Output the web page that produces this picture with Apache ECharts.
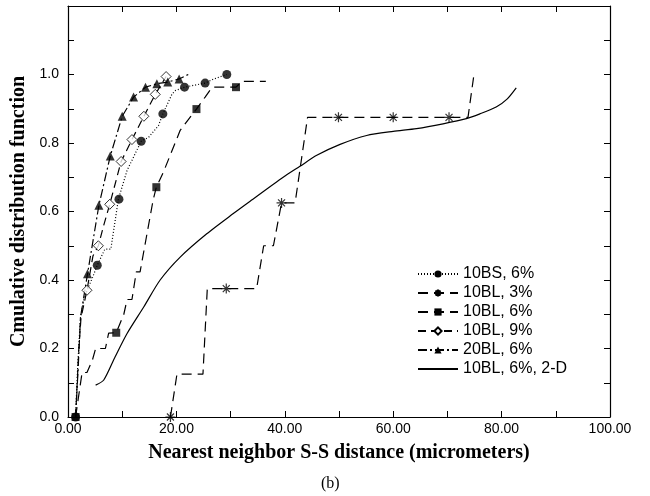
<!DOCTYPE html>
<html>
<head>
<meta charset="utf-8">
<script src="https://cdn.jsdelivr.net/npm/echarts@6/dist/echarts.min.js"></script>
<style>html,body{margin:0;padding:0;background:#fff;}#c{width:650px;height:496px;}</style>
</head>
<body>
<div id="c"></div>
<script>
// ---- data ----
const seriesNames = ['10BS, 6%', '10BL, 3%', '10BL, 6%', '10BL, 9%', '20BL, 6%', '10BL, 6%, 2-D'];
const xTicks = [0, 20, 40, 60, 80, 100];
const yTicks = [0, 0.2, 0.4, 0.6, 0.8, 1.0];

const bs6Line = [[1.4,0],[1.8,0.15],[2.3,0.29],[3.0,0.35],[3.8,0.38],[4.6,0.41],[5.4,0.443],[6.8,0.49],[7.9,0.49],[9.3,0.636],[10.9,0.72],[13.5,0.805],[14.9,0.817],[16.7,0.851],[17.5,0.885],[19.2,0.943],[19.8,0.953],[21.5,0.963],[25.3,0.975],[26.9,0.987],[29.3,1.0]];
const bs6Marks = [[1.4,0],[5.4,0.443],[9.4,0.636],[13.5,0.805],[17.5,0.885],[21.5,0.963],[25.3,0.975],[29.3,1.0]];

const bl3Line = [[18.9,0],[20.1,0.125],[24.9,0.125],[25.7,0.375],[29.2,0.375],[34.8,0.375],[36.1,0.5],[37.9,0.5],[39.4,0.625],[41.9,0.625],[44.2,0.875],[49.9,0.875],[60.0,0.875],[70.3,0.875],[73.8,0.875],[74.9,1.0]];
const bl3Marks = [[18.9,0],[29.2,0.375],[39.4,0.625],[49.9,0.875],[60.0,0.875],[70.3,0.875]];

const bl6Line = [[1.4,0],[1.7,0],[2.6,0.13],[3.5,0.13],[4.5,0.166],[5.1,0.2],[6.9,0.2],[7.5,0.245],[8.9,0.246],[10.3,0.3],[10.9,0.343],[11.8,0.343],[12.6,0.424],[13.3,0.424],[15.7,0.633],[16.3,0.671],[17.6,0.715],[20.7,0.837],[21.6,0.856],[23.7,0.899],[25.3,0.934],[26.6,0.963],[31.0,0.963],[32.1,0.98],[36.5,0.98]];
const bl6Marks = [[1.4,0],[8.9,0.246],[16.3,0.671],[23.7,0.899],[31.0,0.963]];

const bl9Line = [[1.4,0],[2.0,0.2],[2.4,0.29],[3.5,0.37],[4.6,0.47],[5.6,0.5],[6.6,0.56],[7.7,0.621],[9.8,0.746],[11.8,0.81],[14.0,0.878],[16.1,0.942],[18.1,0.994]];
const bl9Marks = [[3.5,0.37],[5.6,0.5],[7.7,0.621],[9.8,0.746],[11.8,0.81],[14.0,0.878],[16.1,0.942],[18.1,0.994]];

const bl20Line = [[1.4,0],[1.9,0.15],[2.3,0.29],[3.6,0.418],[5.7,0.618],[7.8,0.762],[10.0,0.878],[12.1,0.934],[14.3,0.963],[16.4,0.973],[18.4,0.978],[20.5,0.987],[22.2,1.0]];
const bl20Marks = [[3.6,0.418],[5.7,0.618],[7.8,0.762],[10.0,0.878],[12.1,0.934],[14.3,0.963],[16.4,0.973],[18.4,0.978],[20.5,0.987]];

const twoDLine = [[5.1,0.093],[6.6,0.108],[8.7,0.176],[10.9,0.244],[14.0,0.322],[17.0,0.40],[20.7,0.467],[25.6,0.535],[30.5,0.594],[33.6,0.63],[39.7,0.70],[42.8,0.732],[45.9,0.764],[50.2,0.796],[55.1,0.822],[60.0,0.834],[64.3,0.842],[69.2,0.856],[73.5,0.871],[76.0,0.885],[79.0,0.905],[81.0,0.928],[82.7,0.961]];

// ---- chart ----
const K = '#000';
const ASTER = 'path://M0,5L10,5M5,0L5,10M1.5,1.5L8.5,8.5M8.5,1.5L1.5,8.5';
const sans = 'Liberation Sans';
const serif = 'Liberation Serif';

function lineSeries(name, data, dash, symbol, itemStyle, smooth) {
  return {
    type: 'line', name: name, data: data, showSymbol: false,
    symbol: symbol, symbolSize: 8, smooth: smooth || false,
    lineStyle: { color: K, width: 1.2, type: dash },
    itemStyle: itemStyle, z: 2, animation: false
  };
}
function markSeries(name, data, symbol, size, itemStyle) {
  return {
    type: 'scatter', name: name, data: data, symbol: symbol, symbolSize: size,
    itemStyle: itemStyle, z: 3, animation: false
  };
}
const filled = { color: K, borderColor: K, borderWidth: 0 };
const hollow = { color: '#fff', borderColor: K, borderWidth: 1 };
const aster = { color: K, borderColor: K, borderWidth: 1.2 };

const chart = echarts.init(document.getElementById('c'), null, { renderer: 'canvas' });
function axisCommon() {
  return {
    axisLine: { show: true, onZero: false, lineStyle: { color: K, width: 1.2 } },
    axisTick: { show: true, inside: true, length: 6, lineStyle: { color: K } },
    minorTick: { show: true, splitNumber: 2, length: 6, lineStyle: { color: K } },
    splitLine: { show: false }
  };
}
chart.setOption({
  backgroundColor: '#fff',
  animation: false,
  grid: { left: 68, right: 40, top: 6, bottom: 79, containLabel: false },
  xAxis: [
    Object.assign({
      type: 'value', min: xTicks[0], max: xTicks[xTicks.length - 1], interval: xTicks[1] - xTicks[0],
      position: 'bottom',
      axisLabel: { color: K, fontFamily: sans, fontSize: 14, margin: 5, formatter: v => v.toFixed(2) },
      name: 'Nearest neighbor S-S distance (micrometers)', nameLocation: 'middle', nameGap: 26,
      nameTextStyle: { color: K, fontFamily: serif, fontWeight: 'bold', fontSize: 20 }
    }, axisCommon()),
    Object.assign({
      type: 'value', min: xTicks[0], max: xTicks[xTicks.length - 1], interval: xTicks[1] - xTicks[0],
      position: 'top', axisLabel: { show: false }
    }, axisCommon())
  ],
  yAxis: [
    Object.assign({
      type: 'value', min: yTicks[0], max: 1.2, interval: yTicks[1] - yTicks[0],
      position: 'left',
      axisLabel: { color: K, fontFamily: sans, fontSize: 14, margin: 9,
        formatter: v => (v > yTicks[yTicks.length - 1] + 1e-9 ? '' : v.toFixed(1)) },
      name: 'Cmulative distribution function', nameLocation: 'middle', nameGap: 38, nameRotate: 90,
      nameTextStyle: { color: K, fontFamily: serif, fontWeight: 'bold', fontSize: 20 }
    }, axisCommon()),
    Object.assign({
      type: 'value', min: yTicks[0], max: 1.2, interval: yTicks[1] - yTicks[0],
      position: 'right', axisLabel: { show: false }
    }, axisCommon())
  ],
  legend: {
    orient: 'vertical', left: 412, top: 261, itemWidth: 40, itemHeight: 9, itemGap: 3,
    data: seriesNames.slice(0, 5).map(n => ({ name: n })).concat([{ name: seriesNames[5], itemStyle: { opacity: 0 } }]),
    textStyle: { color: K, fontFamily: sans, fontSize: 16, lineHeight: 16 }
  },
  series: [
    lineSeries(seriesNames[0], bs6Line, [1, 2], 'circle', filled),
    lineSeries(seriesNames[1], bl3Line, [10, 6], ASTER, aster),
    lineSeries(seriesNames[2], bl6Line, [10, 6], 'rect', filled),
    lineSeries(seriesNames[3], bl9Line, [8, 5], 'diamond', hollow),
    lineSeries(seriesNames[4], bl20Line, [9, 3, 2, 3], 'triangle', filled),
    lineSeries(seriesNames[5], twoDLine, 'solid', 'none', filled, 0.25),
    markSeries(seriesNames[0], bs6Marks, 'circle', 9, filled),
    markSeries(seriesNames[1], bl3Marks, ASTER, 10, aster),
    markSeries(seriesNames[2], bl6Marks, 'rect', 8, filled),
    markSeries(seriesNames[3], bl9Marks, 'diamond', 10, hollow),
    markSeries(seriesNames[4], bl20Marks, 'triangle', 9, filled)
  ],
  graphic: [{
    type: 'text', left: 321, top: 476,
    style: { text: '(b)', font: '16px "Liberation Serif"', fill: K }
  }]
});
</script>
</body>
</html>
